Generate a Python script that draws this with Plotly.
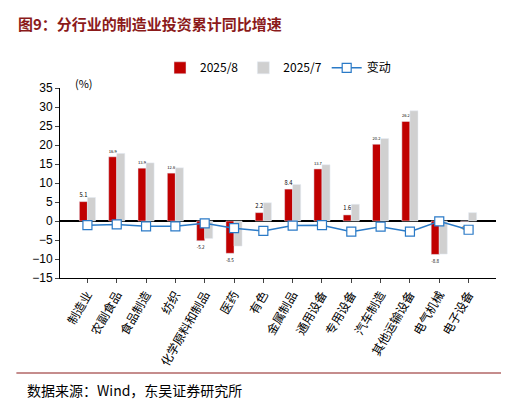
import plotly.graph_objects as go

categories = ["制造业", "农副食品", "食品制造", "纺织", "化学原料和制品", "医药", "有色",
              "金属制品", "通用设备", "专用设备", "汽车制造", "其他运输设备", "电气机械", "电子设备"]
aug = [5.1, 16.9, 13.9, 12.6, -5.2, -8.5, 2.2, 8.4, 13.7, 1.6, 20.2, 26.2, -8.8, -0.1]
jul = [6.2, 17.8, 15.3, 14.0, -4.6, -6.6, 4.8, 9.6, 14.8, 4.4, 21.7, 29.0, -8.7, 2.2]
change = [-1.1, -0.9, -1.4, -1.4, -0.6, -1.9, -2.6, -1.2, -1.1, -2.8, -1.5, -2.8, -0.1, -2.3]

font = "Noto Sans CJK SC"
fig = go.Figure()
fig.add_trace(go.Bar(x=categories, y=aug, name="2025/8", marker_color="#c00000",
                     text=[f"{v}" for v in aug], textposition="outside",
                     textfont=dict(size=12, color="black"), cliponaxis=False))
fig.add_trace(go.Bar(x=categories, y=jul, name="2025/7", marker_color="#d0d0d0"))
fig.add_trace(go.Scatter(x=categories, y=change, name="变动", mode="lines+markers",
                         line=dict(color="#2a7ac7", width=1.5),
                         marker=dict(symbol="square", size=9, color="white",
                                     line=dict(color="#2a7ac7", width=1.2))))

fig.update_layout(
    width=509, height=402, plot_bgcolor="white", paper_bgcolor="white",
    margin=dict(l=52, r=21, t=80, b=132),
    barmode="group", bargap=0.45, bargroupgap=0,
    font=dict(family=font, size=12, color="black"),
    legend=dict(orientation="h", x=0.5, xanchor="center", y=1.03, yanchor="bottom",
                font=dict(size=12)),
    xaxis=dict(tickangle=-60, showline=True, linecolor="black", ticks="outside",
               ticklen=4, tickfont=dict(size=12)),
    yaxis=dict(range=[-15, 35], dtick=5, showline=True, linecolor="black", ticks="outside",
               ticklen=4, showgrid=False, zeroline=True, zerolinecolor="black",
               tickfont=dict(family="Arial", size=12)),
    annotations=[
        dict(text="<b>图9：分行业的制造业投资累计同比增速</b>", x=-0.1, y=1.34, xref="paper",
             yref="paper", xanchor="left", yanchor="middle", showarrow=False,
             font=dict(size=15, color="#8b1a1a")),
        dict(text="(%)", x=0.03, y=1.08, xref="paper", yref="paper", showarrow=False,
             font=dict(size=11)),
        dict(text="数据来源：Wind，东吴证券研究所", x=-0.08, y=-0.59, xref="paper",
             yref="paper", xanchor="left", yanchor="middle", showarrow=False,
             font=dict(size=14)),
    ],
    shapes=[dict(type="line", xref="paper", yref="paper", x0=-0.1, x1=1.04, y0=-0.5, y1=-0.5,
                 line=dict(color="#8b1a1a", width=1))],
)
fig.write_html("out.html")
